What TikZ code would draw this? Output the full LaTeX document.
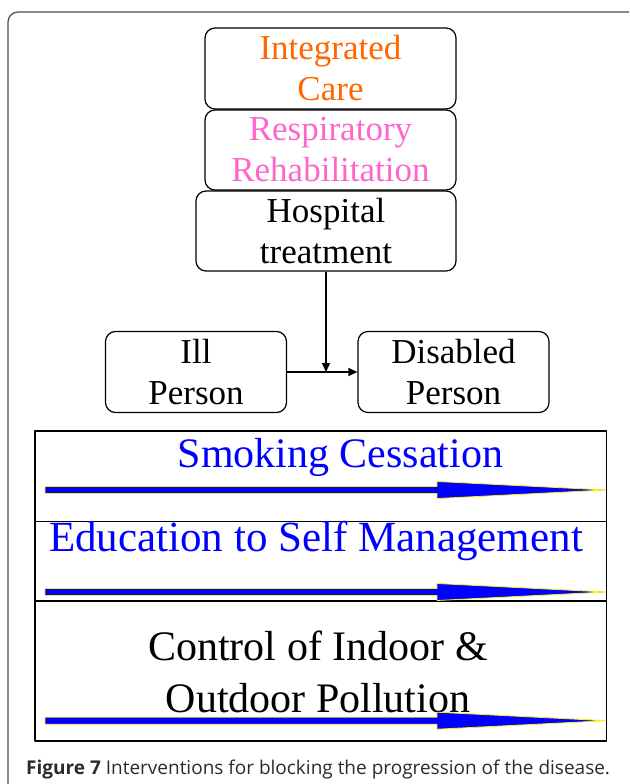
\documentclass[tikz,border=0pt]{standalone}
\usepackage{fontspec}
\setmainfont{Liberation Serif}
\newfontfamily\capfont{Open Sans}
\usetikzlibrary{arrows.meta}
\definecolor{careorange}{HTML}{FF6600}
\definecolor{rehabpink}{HTML}{FF66CC}
\definecolor{capgray}{HTML}{2B2B2B}
\tikzset{
  stagebox/.style={draw,rounded corners=10pt,line width=1.2pt,inner sep=0pt,align=center,
    font=\fontsize{35}{41}\selectfont},
  bandbox/.style={draw,line width=1.4pt,inner sep=0pt},
  bandtext/.style={anchor=base,inner sep=0pt,align=center,font=\fontsize{42}{52}\selectfont}
}
\begin{document}
\begin{tikzpicture}[x=1pt,y=-1pt,>={Triangle[length=9pt,width=8pt]},line join=round]
  \useasboundingbox (0,0) rectangle (629,784);
  \newcommand{\drawbandarrow}[1]{
  \begin{scope}[shift={(0,#1)}]
    % thick blue arrow with thin yellow rim
    \filldraw[fill=blue,draw=yellow,line width=0.8pt] (45,-3.5) -- (437,-3.5) -- (437,-8.5)
      -- (606,0) -- (437,8.5) -- (437,3.5) -- (45,3.5) -- cycle;
  \end{scope}
  }
  % outer frame
  \begin{scope}
    \clip (0,0) rectangle (629,784);
    \draw[black!70,line width=1.2pt,rounded corners=10pt] (8,12) rectangle (650,820);
  \end{scope}
  % stacked interventions
  \node[stagebox,minimum width=251pt,minimum height=81pt,text=careorange] (care) at (330.5,68.5) {Integrated\\Care};
  \node[stagebox,minimum width=251pt,minimum height=80pt,text=rehabpink] (rehab) at (330.5,150) {Respiratory\\Rehabilitation};
  \node[stagebox,minimum width=260pt,minimum height=80pt] (hosp) at (326,231) {Hospital\\treatment};
  % progression
  \node[stagebox,minimum width=181pt,minimum height=81pt] (ill) at (196,372) {Ill\\Person};
  \node[stagebox,minimum width=191pt,minimum height=81pt] (dis) at (453.5,372) {Disabled\\Person};
  \draw[->,line width=1.2pt] (ill.east) -- (dis.west);
  \coordinate (meet) at (hosp.south |- ill.east);
  \draw[->,line width=1.2pt] (hosp.south) -- (meet);
  % bands
  \node[bandbox,minimum width=571.5pt,minimum height=90.7pt] (smoke) at (320.75,476.35) {};
  \node[bandbox,minimum width=571.5pt,minimum height=79.3pt] (educ) at (320.75,561.35) {};
  \node[bandbox,minimum width=571.5pt,minimum height=140pt] (pollu) at (320.75,671) {};
  \node[bandtext,text=blue] (smoketxt) at (340.5,467) {Smoking Cessation};
  \node[bandtext,text=blue,font=\fontsize{43}{52}\selectfont] (eductxt) at (316,551) {Education to Self Management};
  \node[bandtext] (pollutxt) at (318,712) {Control of Indoor \&\\Outdoor Pollution};
  \drawbandarrow{490}
  \drawbandarrow{592}
  \drawbandarrow{720.7}
  % caption
  \node[anchor=base west,inner sep=0pt,text=capgray,font=\capfont\fontsize{19}{22}\selectfont] (caption) at (26,774)
    {\textbf{Figure 7} Interventions for blocking the progression of the disease.};
\end{tikzpicture}
\end{document}
